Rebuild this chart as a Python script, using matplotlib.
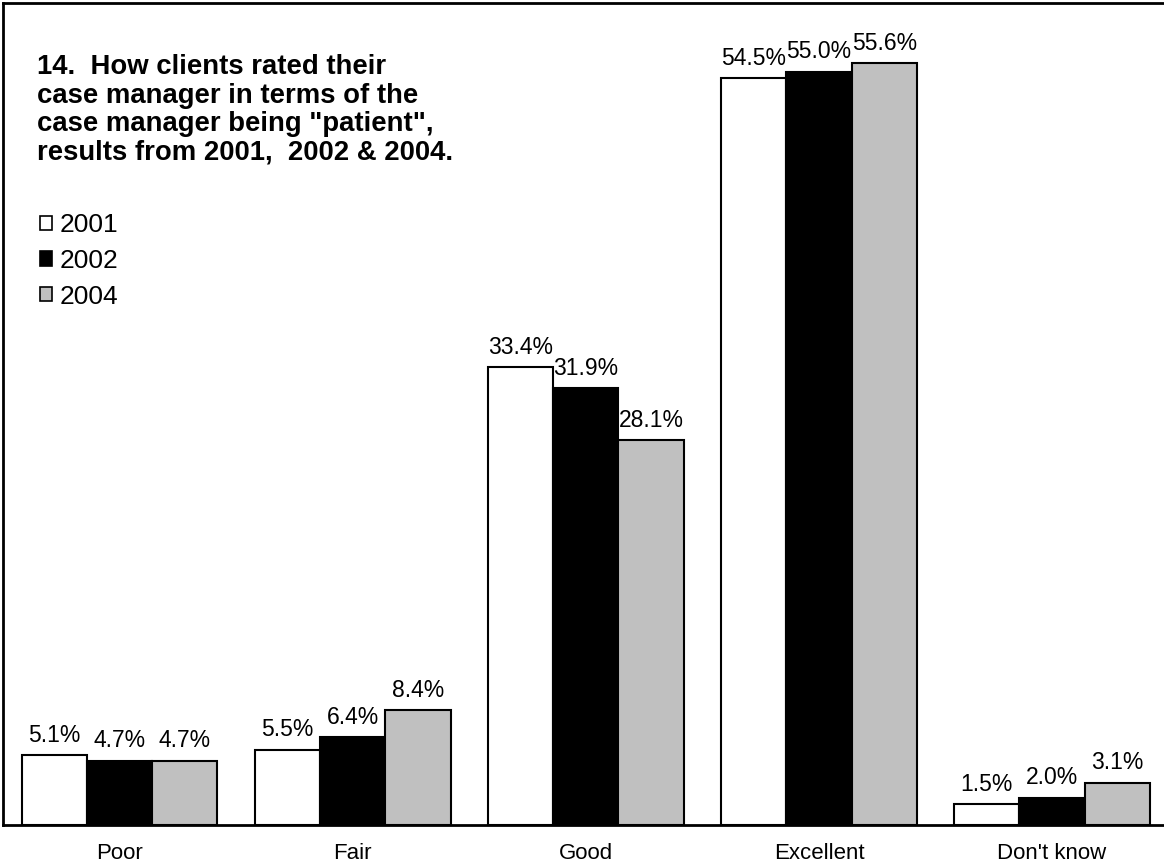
import numpy as np
import matplotlib.pyplot as plt
from matplotlib.patches import Patch

plt.rcParams['font.family'] = ['Liberation Sans', 'DejaVu Sans']

# Data
categories = ['Poor', 'Fair', 'Good', 'Excellent', "Don't know"]
years = ['2001', '2002', '2004']
values_2001 = [5.1, 5.5, 33.4, 54.5, 1.5]
values_2002 = [4.7, 6.4, 31.9, 55.0, 2.0]
values_2004 = [4.7, 8.4, 28.1, 55.6, 3.1]
series = [values_2001, values_2002, values_2004]
colors = ['white', 'black', '#c0c0c0']

title = ('14.  How clients rated their\ncase manager in terms of the\n'
         'case manager being "patient",\nresults from 2001,  2002 & 2004.')

fig = plt.figure(figsize=(11.64, 8.65), dpi=100)
ax = fig.add_axes([3 / 1164, 40 / 865, 1161 / 1164, 822 / 865])

x = np.arange(len(categories))
width = 0.28
for i, (vals, color) in enumerate(zip(series, colors)):
    bars = ax.bar(x + (i - 1) * width, vals, width, color=color,
                  edgecolor='black', linewidth=1.5)
    ax.bar_label(bars, labels=[f'{v:.1f}%' for v in vals], padding=6,
                 fontsize=16.5)

ax.set_xlim(-0.5, 4.48)
ax.set_ylim(0, 60)
ax.set_xticks(x)
ax.set_xticklabels(categories, fontsize=16)
ax.tick_params(axis='x', length=0, pad=13)
ax.set_yticks([])
ax.spines['right'].set_visible(False)
for s in ['left', 'top', 'bottom']:
    ax.spines[s].set_linewidth(2)

# title block in the upper left
fig.text(37 / 1164, 1 - 54 / 865, title, fontsize=19.8, fontweight='bold',
         va='top', ha='left', linespacing=1.13)

handles = [Patch(facecolor=c, edgecolor='black', linewidth=1.2) for c in colors]
fig.legend(handles, years, loc='upper left',
           bbox_to_anchor=(40 / 1164, 1 - 213 / 865), frameon=False,
           fontsize=19, handlelength=0.45, handleheight=0.45,
           handletextpad=0.3, labelspacing=0.45, borderpad=0,
           borderaxespad=0)

fig.savefig('out.png', dpi=100)
